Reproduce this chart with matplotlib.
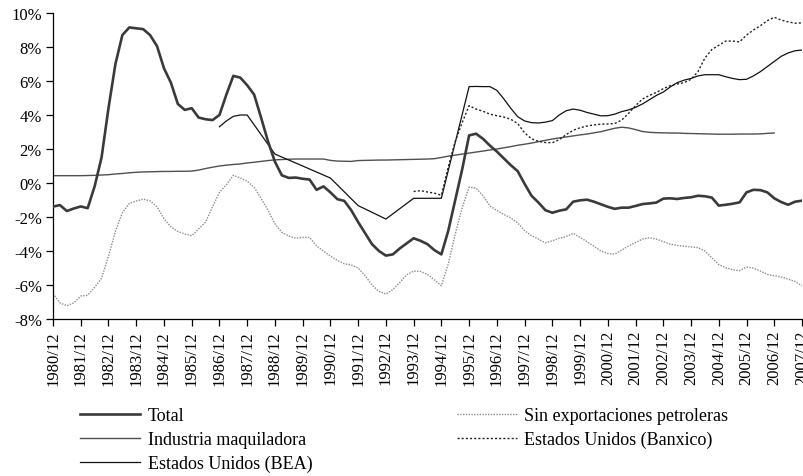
import numpy as np
import matplotlib
matplotlib.use("Agg")
import matplotlib.pyplot as plt

plt.rcParams['font.family'] = ['Liberation Serif', 'DejaVu Serif']
plt.rcParams['font.size'] = 12

# ---- data (percent) ----
years = list(range(1980, 2008))
tick_labels = [f"{y}/12" for y in years]

# quarterly, starting 1980/12
total = [
    -1.39, -1.30, -1.65, -1.50,
    -1.38, -1.48, -0.20, 1.50,
    4.40, 7.00, 8.70, 9.15,
    9.10, 9.05, 8.70, 8.05,
    6.75, 5.90, 4.65, 4.30,
    4.40, 3.85, 3.75, 3.70,
    4.00, 5.20, 6.30, 6.20,
    5.75, 5.20, 3.85, 2.45,
    1.25, 0.45, 0.30, 0.32,
    0.25, 0.20, -0.40, -0.20,
    -0.55, -0.95, -1.05, -1.60,
    -2.30, -2.95, -3.60, -4.00,
    -4.27, -4.20, -3.85, -3.55,
    -3.25, -3.40, -3.60, -3.95,
    -4.20, -2.80, -1.00, 0.80,
    2.80, 2.90, 2.60, 2.20,
    1.85, 1.45, 1.05, 0.70,
    -0.05, -0.75, -1.15, -1.60,
    -1.75, -1.63, -1.55, -1.10,
    -1.02, -0.98, -1.10, -1.25,
    -1.40, -1.52, -1.45, -1.45,
    -1.35, -1.24, -1.20, -1.15,
    -0.92, -0.90, -0.94, -0.88,
    -0.84, -0.75, -0.78, -0.86,
    -1.33, -1.28, -1.22, -1.14,
    -0.55, -0.40, -0.42, -0.55,
    -0.90, -1.12, -1.28, -1.10,
    -1.04,
]

# quarterly, starting 1980/12
sin_petroleras = [
    -6.50, -7.05, -7.22, -7.05,
    -6.65, -6.60, -6.14, -5.60,
    -4.30, -2.85, -1.75, -1.20,
    -1.06, -0.95, -1.05, -1.40,
    -2.10, -2.58, -2.85, -3.00,
    -3.10, -2.70, -2.30, -1.40,
    -0.55, -0.10, 0.45, 0.30,
    0.10, -0.25, -0.90, -1.60,
    -2.40, -2.90, -3.12, -3.25,
    -3.20, -3.20, -3.70, -4.00,
    -4.30, -4.55, -4.75, -4.82,
    -5.00, -5.45, -6.00, -6.38,
    -6.53, -6.27, -5.85, -5.40,
    -5.18, -5.20, -5.38, -5.70,
    -6.04, -4.75, -3.00, -1.45,
    -0.25, -0.30, -0.75, -1.35,
    -1.62, -1.85, -2.05, -2.35,
    -2.80, -3.10, -3.30, -3.52,
    -3.40, -3.25, -3.15, -2.96,
    -3.20, -3.45, -3.72, -4.00,
    -4.15, -4.18, -3.95, -3.70,
    -3.50, -3.30, -3.22, -3.30,
    -3.45, -3.60, -3.67, -3.72,
    -3.76, -3.80, -4.00, -4.40,
    -4.80, -4.98, -5.10, -5.16,
    -4.95, -5.00, -5.18, -5.38,
    -5.45, -5.53, -5.65, -5.80,
    -6.04,
]

# quarterly, 1980/12 - 2006/12
maquiladora = [
    0.43, 0.43, 0.43, 0.43,
    0.43, 0.44, 0.45, 0.47,
    0.49, 0.53, 0.56, 0.60,
    0.63, 0.65, 0.66, 0.67,
    0.68, 0.68, 0.69, 0.69,
    0.70, 0.76, 0.85, 0.93,
    1.00, 1.05, 1.09, 1.12,
    1.18, 1.22, 1.27, 1.32,
    1.36, 1.38, 1.40, 1.41,
    1.41, 1.41, 1.41, 1.41,
    1.33, 1.29, 1.28, 1.27,
    1.32, 1.33, 1.34, 1.35,
    1.35, 1.36, 1.37, 1.38,
    1.39, 1.40, 1.41, 1.43,
    1.50, 1.58, 1.64, 1.70,
    1.76, 1.82, 1.88, 1.94,
    2.00, 2.07, 2.14, 2.22,
    2.28, 2.35, 2.43, 2.51,
    2.59, 2.65, 2.71, 2.77,
    2.83, 2.88, 2.95, 3.02,
    3.12, 3.22, 3.28, 3.24,
    3.14, 3.03, 2.98, 2.96,
    2.95, 2.94, 2.94, 2.92,
    2.91, 2.90, 2.89, 2.88,
    2.87, 2.87, 2.87, 2.88,
    2.88, 2.88, 2.89, 2.92,
    2.94,
]

# quarterly, 1993/12 - 2007/12
banxico = [
    -0.50, -0.45, -0.53, -0.60,
    -0.72, 0.95, 2.45, 3.55,
    4.55, 4.35, 4.22, 4.05,
    3.96, 3.88, 3.75, 3.50,
    2.95, 2.60, 2.45, 2.38,
    2.37, 2.55, 2.85, 3.10,
    3.25, 3.35, 3.42, 3.46,
    3.47, 3.50, 3.70, 4.10,
    4.55, 4.94, 5.15, 5.33,
    5.55, 5.73, 5.82, 5.90,
    6.10, 6.55, 7.35, 7.85,
    8.10, 8.35, 8.35, 8.30,
    8.70, 9.00, 9.25, 9.55,
    9.75, 9.58, 9.48, 9.40,
    9.42,
]

bea_dates = [
    "1986/12", "1987/03", "1987/06", "1987/09", "1987/12",
    "1988/12", "1989/12", "1990/12", "1991/12", "1992/12",
    "1993/12", "1994/12", "1995/12",
    "1996/03", "1996/06", "1996/09", "1996/12",
    "1997/03", "1997/06", "1997/09", "1997/12",
    "1998/03", "1998/06", "1998/09", "1998/12",
    "1999/03", "1999/06", "1999/09", "1999/12",
    "2000/03", "2000/06", "2000/09", "2000/12",
    "2001/03", "2001/06", "2001/09", "2001/12",
    "2002/03", "2002/06", "2002/09", "2002/12",
    "2003/03", "2003/06", "2003/09", "2003/12",
    "2004/03", "2004/06", "2004/09", "2004/12",
    "2005/03", "2005/06", "2005/09", "2005/12",
    "2006/03", "2006/06", "2006/09", "2006/12",
    "2007/03", "2007/06", "2007/09", "2007/12",
]
bea_values = [
    3.31, 3.65, 3.92, 4.00, 4.00,
    1.70, 1.00, 0.29, -1.33, -2.12,
    -0.90, -0.90, 5.67,
    5.68, 5.67, 5.67, 5.45,
    4.95, 4.40, 3.90, 3.65,
    3.55, 3.53, 3.58, 3.67,
    4.00, 4.25, 4.35, 4.28,
    4.15, 4.05, 3.95, 3.96,
    4.05, 4.20, 4.30, 4.45,
    4.65, 4.90, 5.15, 5.35,
    5.65, 5.90, 6.05, 6.15,
    6.30, 6.37, 6.37, 6.37,
    6.25, 6.15, 6.08, 6.10,
    6.30, 6.55, 6.85, 7.15,
    7.45, 7.65, 7.78, 7.82,
]

labels = ["Total", "Industria maquiladora", "Estados Unidos (BEA)",
          "Sin exportaciones petroleras", "Estados Unidos (Banxico)"]


def to_t(s):
    y, m = s.split("/")
    return (int(y) - 1980) + (int(m) - 12) / 12.0


def quarterly(start, n):
    return to_t(start) + 0.25 * np.arange(n)


fig = plt.figure(figsize=(8.04, 4.77), dpi=100)
W, H = 804, 477
ax = fig.add_axes([53 / W, 1 - 320 / H, (802 - 53) / W, (320 - 14) / H])

h_total, = ax.plot(quarterly("1980/12", len(total)), total, color="#3a3a3a", lw=1.9,
                   solid_joinstyle="round", zorder=5)
h_maq, = ax.plot(quarterly("1980/12", len(maquiladora)), maquiladora, color="#505050", lw=1.0)
h_bea, = ax.plot([to_t(d) for d in bea_dates], bea_values, color="#111111", lw=0.9)
h_sin, = ax.plot(quarterly("1980/12", len(sin_petroleras)), sin_petroleras, color="#8a8a8a",
                 lw=1.0, linestyle=(0, (1, 1)))
h_bx, = ax.plot(quarterly("1993/12", len(banxico)), banxico, color="#222222",
                lw=1.0, linestyle=(0, (1.5, 1.5)))

ax.set_xlim(0, 27)
ax.set_ylim(-8, 10)
ax.set_xticks(range(len(years)))
ax.set_xticklabels(tick_labels, rotation=90)
yt = list(range(-8, 11, 2))
ax.set_yticks(yt)
ax.set_yticklabels([f"{v}%" for v in yt])
for s in ["top", "right"]:
    ax.spines[s].set_visible(False)
for s in ["left", "bottom"]:
    ax.spines[s].set_linewidth(0.9)
ax.tick_params(direction="out", length=5, width=0.9, labelsize=12, pad=3)

fig.legend([h_total, h_maq, h_bea, h_sin, h_bx], labels, ncol=2, frameon=False,
           loc="upper left", bbox_to_anchor=(64 / W, 1 - 392 / H),
           handlelength=3.33, handletextpad=0.4, columnspacing=8.0,
           labelspacing=0.38, fontsize=13)

fig.savefig("out.png", dpi=100)
